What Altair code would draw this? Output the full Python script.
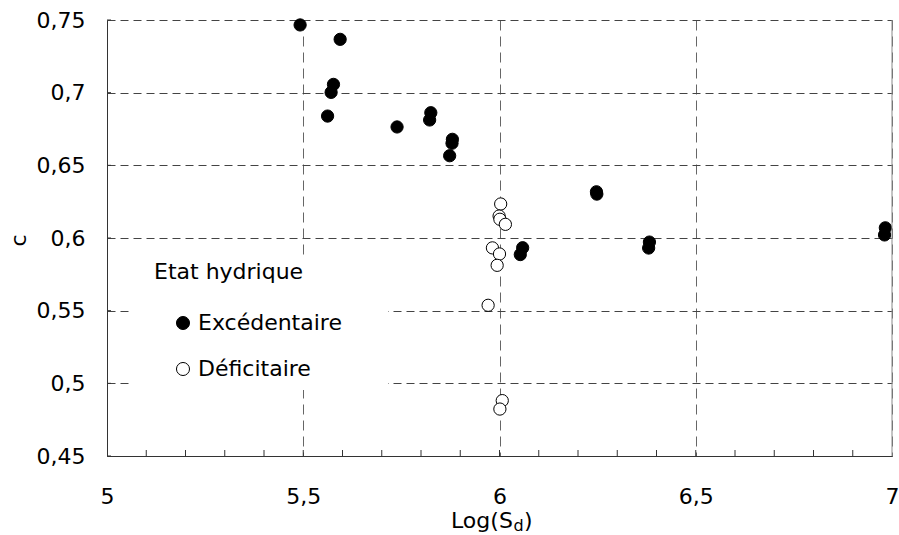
import altair as alt
import pandas as pd

# ---- data ----
exc_logsd = [5.492, 5.594, 5.577, 5.571, 5.562, 5.739, 5.825, 5.822, 5.880, 5.879,
             5.873, 6.059, 6.053, 6.247, 6.248, 6.382, 6.380, 6.983, 6.981]
exc_c = [0.7466, 0.7367, 0.7057, 0.7002, 0.6839, 0.6764, 0.6862, 0.6812, 0.6679, 0.6652,
         0.6566, 0.5933, 0.5886, 0.6318, 0.6302, 0.5972, 0.5931, 0.6070, 0.6021]

def_logsd = [6.003, 5.999, 6.001, 6.015, 5.982, 6.000, 5.994, 5.971, 6.007, 6.001]
def_c = [0.6234, 0.6151, 0.6129, 0.6094, 0.5932, 0.5890, 0.5812, 0.5537, 0.4881, 0.4823]

categories = ["Excédentaire", "Déficitaire"]
x_label_values = [5, 5.5, 6, 6.5, 7]
y_label_values = [0.45, 0.5, 0.55, 0.6, 0.65, 0.7, 0.75]
x_minor_ticks = [5.1, 5.2, 5.3, 5.4, 5.5, 5.6, 5.7, 5.8, 5.9, 6.0,
                 6.1, 6.2, 6.3, 6.4, 6.5, 6.6, 6.7, 6.8, 6.9]

FONT = "DejaVu Sans"
W, H = 785, 436

df = pd.DataFrame({
    "logSd": exc_logsd + def_logsd,
    "c": exc_c + def_c,
    "etat": [categories[0]] * len(exc_logsd) + [categories[1]] * len(def_logsd),
})
xt = pd.DataFrame({"logSd": x_minor_ticks})
yt = pd.DataFrame({"c": y_label_values})
one = pd.DataFrame({"k": [0]})

xs = alt.Scale(domain=[5, 7], nice=False, zero=False)
ys = alt.Scale(domain=[0.45, 0.75], nice=False, zero=False)

label_expr = "replace(toString(datum.value), '.', ',')"

x_axis = alt.Axis(
    values=x_label_values, labelExpr=label_expr, grid=True,
    gridDash=[10, 6], gridColor="#666666", gridWidth=1,
    domainColor="#333333", domainWidth=1, ticks=False, tickSize=0,
    labelFontSize=22, labelColor="black", labelPadding=30,
    labelFlush=False, labelOverlap=False, title=None)
y_axis = alt.Axis(
    values=y_label_values, labelExpr=label_expr, grid=True,
    gridDash=[8, 5], gridColor="#444444", gridWidth=1,
    domainColor="#333333", domainWidth=1, ticks=False, tickSize=0,
    labelFontSize=22, labelColor="black", labelPadding=22,
    labelFlush=False, labelOverlap=False,
    title="c", titleFontSize=22, titleFontWeight="normal", titleColor="black",
    titleAngle=270, titleX=-82, titleY=220, titleAlign="center",
    titleBaseline="alphabetic")

points = alt.Chart(df).mark_circle(
    size=150, stroke="black", strokeWidth=1, opacity=1
).encode(
    x=alt.X("logSd:Q", scale=xs, axis=x_axis),
    y=alt.Y("c:Q", scale=ys, axis=y_axis),
    fill=alt.Fill("etat:N", scale=alt.Scale(domain=categories, range=["black", "white"]),
                  legend=alt.Legend(
                      title="Etat hydrique", orient="none", legendX=47, legendY=242,
                      titleFontSize=22, titleFontWeight="normal", titleColor="black",
                      labelFontSize=22, labelColor="black",
                      symbolType="circle", symbolSize=170,
                      symbolStrokeColor="black", symbolStrokeWidth=1,
                      symbolOffset=18, labelOffset=4,
                      titlePadding=28, rowPadding=24, padding=0)),
)

legend_bg = alt.Chart(one).mark_rect(fill="white").encode(
    x=alt.value(23), x2=alt.value(281), y=alt.value(235), y2=alt.value(370)
)

x_ticks = alt.Chart(xt).mark_rule(color="#333333", strokeWidth=1).encode(
    x=alt.X("logSd:Q", scale=xs, axis=x_axis), y=alt.value(H), y2=alt.value(H - 6)
)
y_ticks = alt.Chart(yt).mark_rule(color="#333333", strokeWidth=1).encode(
    y=alt.Y("c:Q", scale=ys, axis=y_axis), x=alt.value(0), x2=alt.value(4)
)
right_border = alt.Chart(one).mark_rule(color="#888888", strokeWidth=1).encode(
    x=alt.value(W), y=alt.value(0), y2=alt.value(H)
)

# x axis title with subscript
t_main = alt.Chart(one).mark_text(font=FONT, fontSize=22, align="left",
                                  baseline="alphabetic", color="black").encode(
    x=alt.value(344), y=alt.value(508), text=alt.value("Log(S"))
t_sub = alt.Chart(one).mark_text(font=FONT, fontSize=16, align="left",
                                 baseline="alphabetic", color="black").encode(
    x=alt.value(406.5), y=alt.value(511), text=alt.value("d"))
t_end = alt.Chart(one).mark_text(font=FONT, fontSize=22, align="left",
                                 baseline="alphabetic", color="black").encode(
    x=alt.value(417), y=alt.value(508), text=alt.value(")"))

chart = alt.layer(
    points, legend_bg, x_ticks, y_ticks, right_border, t_main, t_sub, t_end
).properties(
    width=W, height=H,
    padding={"left": 107, "top": 20, "right": 7, "bottom": 79},
    autosize=alt.AutoSizeParams(type="none"),
    background="white",
).configure(
    font=FONT
).configure_view(
    strokeWidth=0
)

chart.save("out.html", embed_options={"renderer": "svg", "actions": False})
